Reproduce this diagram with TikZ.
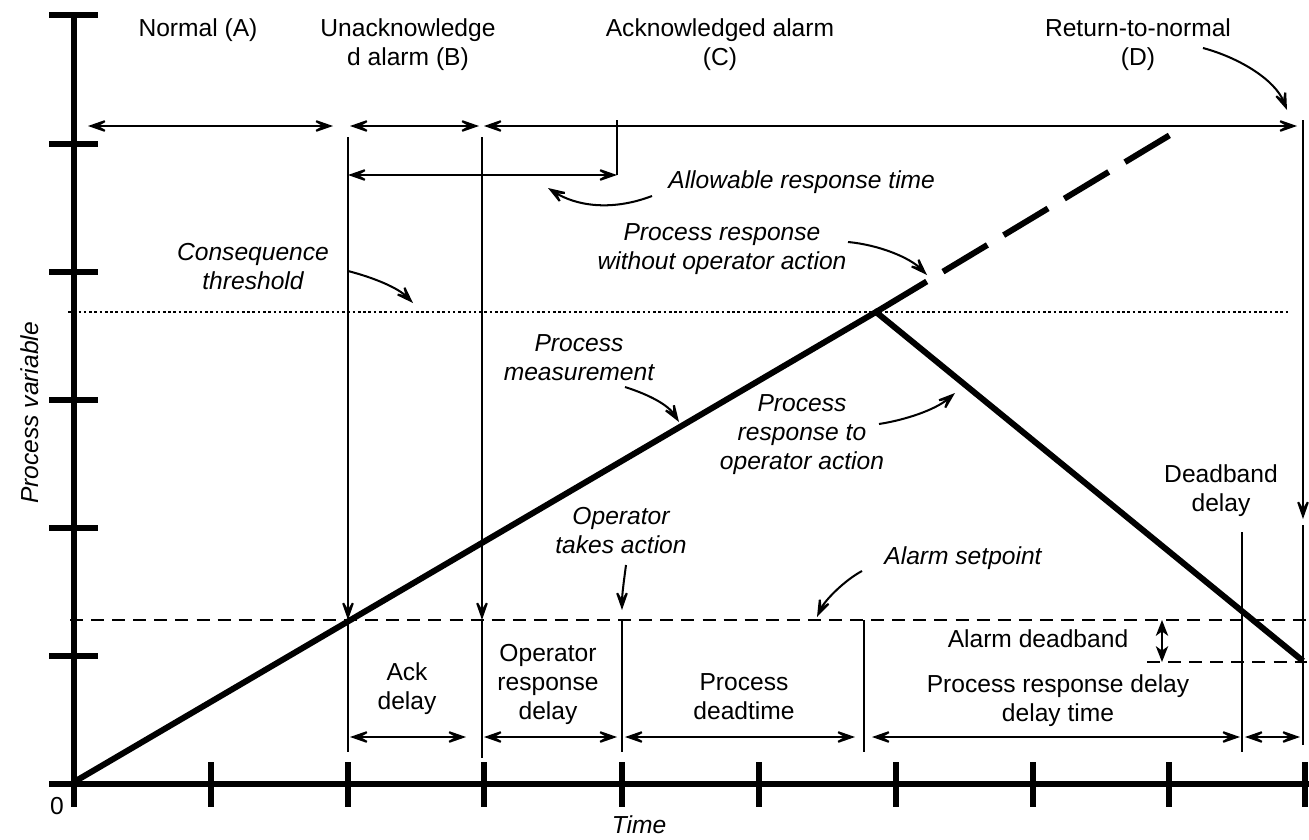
\documentclass[tikz,border=0pt]{standalone}
\usepackage{fontspec}
\setmainfont{Liberation Sans}
\usetikzlibrary{arrows.meta}

\tikzset{
  axisline/.style={line width=2.9pt},
  pvline/.style={line width=3.4pt, line join=miter},
  thin/.style={line width=1.15pt},
  head/.tip={Stealth[length=15pt,width=10.5pt,inset=9pt]},
  smallhead/.tip={Stealth[length=9pt,width=7pt,inset=2.5pt]},
  arr/.style={thin, -head},
  both/.style={thin, head-head},
  lbl/.style={align=center, inner sep=0pt},
  note/.style={lbl, font=\fontsize{14}{16.5}\selectfont\itshape},
  setpt/.style={line width=1.15pt, dash pattern=on 7.4pt off 4.6pt},
  thresh/.style={line width=1.2pt, dash pattern=on 1.5pt off 1.5pt},
}

\begin{document}
\begin{tikzpicture}[x=0.02cm, y=-0.02cm, font=\fontsize{14}{16.5}\selectfont]
\useasboundingbox (0,0) rectangle (1309,839);

% axes with ticks
\draw[axisline] (74,15) -- (74,807);
\draw[axisline] (49,784) -- (1309,784);
\foreach \yy in {15,144,272,400,528,656} \draw[axisline] (49,\yy) -- (98,\yy);
\foreach \xx in {74,211,348,484,622,759,896,1033,1169,1305} \draw[axisline] (\xx,762) -- (\xx,807);
\node[lbl] (zero) at (57,806) {0};
\node[note] (tlabel) at (639,825) {Time};
\node[note, rotate=90] (vlabel) at (30,413) {Process variable};

% threshold and setpoint lines
\coordinate (thL) at (68,312);  \coordinate (thR) at (1290,312);
\coordinate (spL) at (70,620);  \coordinate (spR) at (1307,620);
\coordinate (dbL) at (1147,662); \coordinate (dbR) at (1307,662);
\draw[thresh] (thL) -- (thR);
\draw[setpt] (spL) -- (spR);
\draw[setpt] (dbL) -- (dbR);

% process variable trace
\coordinate (O) at (74,782);
\coordinate (peak) at (876,312);
\coordinate (fin) at (1303,661);
\coordinate (proj) at (1170,135);
\draw[pvline] (O) -- (peak) -- (fin);
\draw[pvline, dash pattern=on 33.7pt off 10.8pt on 29.5pt off 10.8pt on 29.5pt off 10.8pt on 29.5pt off 10.8pt on 29.5pt off 30pt] (peak) -- (proj);

% vertical event markers
\coordinate (b0) at (348,137); \coordinate (b1) at (348,620); \coordinate (b2) at (348,752);
\coordinate (c0) at (482,137); \coordinate (c1) at (482,620); \coordinate (c2) at (482,758);
\coordinate (t1) at (622,620); \coordinate (t2) at (622,752);
\coordinate (p1) at (864,620); \coordinate (p2) at (864,752);
\coordinate (q1) at (1242,532); \coordinate (q2) at (1242,752);
\coordinate (d0) at (1303,120); \coordinate (d1) at (1303,519);
\coordinate (d2) at (1303,525); \coordinate (d3) at (1303,745);
\draw[arr] (b0) -- (b1); \draw[thin] (b1) -- (b2);
\draw[arr] (c0) -- (c1); \draw[thin] (c1) -- (c2);
\draw[thin] (t1) -- (t2);
\draw[thin] (p1) -- (p2);
\draw[thin] (q1) -- (q2);
\draw[arr] (d0) -- (d1); \draw[thin] (d2) -- (d3);

% state spans along the top
\coordinate (a1) at (88,126);  \coordinate (a2) at (333,126);
\coordinate (s1) at (350,126); \coordinate (s2) at (479,126);
\coordinate (k1) at (484,126); \coordinate (k2) at (1297,126);
\draw[both] (a1) -- (a2);
\draw[both] (s1) -- (s2);
\draw[both] (k1) -- (k2);
\coordinate (r0) at (617,120); \coordinate (r1) at (617,175);
\draw[thin] (r0) -- (r1);
\coordinate (w1) at (348,175);
\draw[both] (w1) -- (r1);

\node[lbl] (nA) at (198,30) {Normal (A)};
\node[lbl] (nB) at (408,45) {Unacknowledge\\d alarm (B)};
\node[lbl] (nC) at (720,45) {Acknowledged alarm\\(C)};
\node[lbl] (nD) at (1138,45) {Return-to-normal\\(D)};

% annotations with curved pointers
\node[note, anchor=west] (allow) at (668,182) {Allowable response time};
\coordinate (allowS) at (652,196); \coordinate (allowT) at (548,188);
\draw[arr] (allowS) .. controls (610,212) and (575,205) .. (allowT);

\node[note] (cons) at (253,267) {Consequence\\threshold};
\coordinate (consS) at (348,271); \coordinate (consT) at (413,303);
\draw[arr] (consS) .. controls (375,278) and (398,288) .. (consT);

\node[note] (wo) at (722,249) {Process response\\without operator action};
\coordinate (woS) at (848,242); \coordinate (woT) at (927,275);
\draw[arr] (woS) .. controls (880,245) and (910,258) .. (woT);

\node[note] (meas) at (579,358) {Process\\measurement};
\coordinate (measS) at (625,387); \coordinate (measT) at (679,422);
\draw[arr] (measS) .. controls (650,395) and (668,405) .. (measT);

\node[note] (resp) at (802,435) {Process\\response to\\operator action};
\coordinate (respS) at (879,424); \coordinate (respT) at (955,393);
\draw[arr] (respS) .. controls (905,420) and (935,410) .. (respT);

\coordinate (rtnS) at (1203,48); \coordinate (rtnT) at (1287,110);
\draw[arr] (rtnS) .. controls (1240,58) and (1275,80) .. (rtnT);

\node[note] (act) at (621,531) {Operator\\takes action};
\coordinate (actS) at (626,565); \coordinate (actT) at (622,610);
\draw[arr] (actS) .. controls (624,580) and (622,595) .. (actT);

\node[note] (setp) at (963,558) {Alarm setpoint};
\coordinate (setS) at (862,571); \coordinate (setT) at (817,617);
\draw[arr] (setS) .. controls (845,580) and (825,600) .. (setT);

% deadband
\node[lbl] (dband) at (1038,639) {Alarm deadband};
\coordinate (db1) at (1162,620); \coordinate (db2) at (1162,662);
\draw[thin, smallhead-smallhead] (db1) -- (db2);
\node[lbl] (dbdelay) at (1221,491) {Deadband\\delay};

% delay spans along the bottom
\node[lbl] (ack) at (407,689) {Ack\\delay};
\node[lbl] (ord) at (548,684) {Operator\\response\\delay};
\node[lbl] (pdt) at (744,697) {Process\\deadtime};
\node[lbl] (prd) at (1058,701) {Process response delay\\delay time};
\coordinate (e1) at (350,737);  \coordinate (e2) at (466,737);
\coordinate (f1) at (484,737);  \coordinate (f2) at (617,737);
\coordinate (g1) at (625,737);  \coordinate (g2) at (855,737);
\coordinate (h1) at (872,737);  \coordinate (h2) at (1240,737);
\coordinate (i1) at (1245,737); \coordinate (i2) at (1300,737);
\draw[both] (e1) -- (e2);
\draw[both] (f1) -- (f2);
\draw[both] (g1) -- (g2);
\draw[both] (h1) -- (h2);
\draw[both] (i1) -- (i2);
\end{tikzpicture}
\end{document}
